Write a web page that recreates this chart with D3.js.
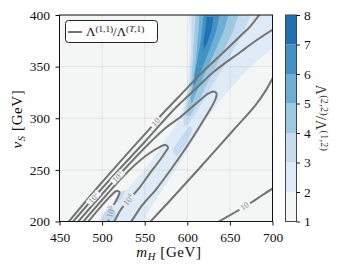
<!DOCTYPE html>
<html><head><meta charset="utf-8">
<script src="https://cdn.jsdelivr.net/npm/d3@7"></script>
<style>
body{margin:0;background:#fff;}
svg{display:block;font-family:"Liberation Serif","DejaVu Serif",serif;}
</style></head><body>
<svg id="c" width="340" height="273"></svg>
<script>
// ---------- data ----------
const xTicks=[450,500,550,600,650,700];
const yTicks=[200,250,300,350,400];
const cbTicks=[1,2,3,4,5,6,7,8];
const levelColors=["#f4f6f6","#deebf7","#c6dbef","#9ecae1","#6baed6","#4292c6","#2171b5"];

// filled regions of Λ(2,2)/Λ(1,2) ≥ level  (points: [m_H, v_S])
const region2=[[494.6,200],[507.5,213.1],[519.2,223.7],[533.3,234.4],[547.4,248],[562.7,264.4],[574.4,278.9],[586.1,293.5],[594.4,308],[599,322.5],[601.4,346.7],[602.6,375.8],[601.4,400],[700,400],[700,368.1],[683.6,356.4],[668.3,344.8],[653.1,331.2],[639,317.7],[627.2,305.1],[615.5,290.6],[603.8,274.1],[589.7,254.7],[574.4,235.4],[559.2,216],[548.6,200]];
const region3a=[[604.9,400],[674.2,400],[667.1,385.5],[657.7,371],[646,354.5],[633.1,337],[621.4,320.6],[610.8,306],[601.4,294.4],[595.5,291.5],[595.5,303.1],[599,317.7],[602.6,337],[604.9,366.1]];
const region3b=[[498.1,200],[514.6,200],[516.9,208.2],[511,215],[502.8,209.2]];
const region3c=[[514.6,220.8],[521.6,228.6],[527.5,230.5],[523.9,222.8],[518.1,217.9]];
const region3d=[[582.6,269.2],[594.4,283.8],[603.8,293.5],[606.1,288.6],[597.9,274.1],[587.3,262.5]];
const region4=[[609.6,400],[660.1,400],[654.2,385.5],[644.8,369],[634.3,351.6],[622.5,332.2],[612,314.8],[602.6,301.2],[599,303.1],[601.4,317.7],[604.9,337],[607.3,366.1]];
const region5=[[614.3,400],[648.4,400],[642.5,383.5],[633.1,366.1],[622.5,346.7],[613.1,329.3],[604.9,313.8],[603.8,319.6],[607.3,337],[610.8,361.3],[613.1,385.5]];
const region6=[[619,400],[637.8,400],[634.3,385.5],[627.2,369],[619,351.6],[610.8,335.1],[607.3,329.3],[608.4,341.9],[613.1,361.3],[616.7,380.6]];
const region7=[[622.5,398],[630.7,398],[628.4,385.5],[623.7,373.8],[619,366.1],[619,375.8],[621.4,387.5]];

// contour lines of Λ(1,1)/Λ(T,1)
const c10Upper=[[459,198],[498.1,236.3],[533.3,269.2],[556.8,290.6],[568.5,302.2],[592,322.5],[615.5,342.9],[639,361.3],[662.4,379.7],[674.2,389.3],[687,403]];
const c10Lower=[[632,197.5],[656.6,209.2],[674.2,217.9],[688.3,225.7],[703,233.5]];
const c100Upper=[[464,198],[498.1,230.5],[521.6,251.8],[551,278],[583.8,308],[609.6,328.3],[630.7,344.8],[662.4,364.2],[680,374.8],[702,386.8]];
const c100Lower=[[554.5,198],[580.3,220.8],[615.5,252.8],[654.2,288.6],[680.1,312.8],[691.8,326.5],[700,338.5],[702.3,342]];
const c1000=[[470,198],[498.1,224.7],[527.5,251.8],[556.8,277],[574.4,290.6],[592,301.2],[609.6,313.8],[624.9,324],[630.7,325.9],[634.3,324],[633.1,318.6],[628.4,310.9],[621.4,301.2],[612,288.6],[596.7,269.2],[580.3,249.9],[562.7,230.5],[547.4,216],[534.5,200.5],[532,198]];
const c10000=[[476,198],[504,224.7],[527.5,246],[551,263.4],[568.5,272.6],[574.4,274.1],[577.4,271.7],[574.4,267.3],[566.2,257.6],[554.5,245],[542.7,231.5],[531,220.8],[521.6,211.1],[514.6,200.5],[512.5,198]];
const c100000=[[481.7,198],[498.1,214],[509.9,224.7],[516.9,229.5],[520.4,228.6],[518.1,222.8],[512.2,214],[508.7,207.3],[507.5,200.5],[507,198]];

const contourLines=[c10Upper,c10Lower,c100Upper,c100Lower,c1000,c10000,c100000];
// inline labels: [m_H, v_S, exponent, index of contour line]
const contourLabels=[[562.7,296.4,1,0],[667.1,215,1,1],[489.9,222.8,2,2],[518.1,243.1,3,4],[531,220.8,4,5],[509.9,209.2,5,6]];

// ---------- drawing ----------
const L=59.5,R=272.5,T=15,B=221.5;
const xS=d3.scaleLinear().domain([450,700]).range([L,R]);
const yS=d3.scaleLinear().domain([200,400]).range([B,T]);
const cbS=d3.scaleLinear().domain([1,8]).range([B,T]);
const svg=d3.select("#c");
const defs=svg.append("defs");
defs.append("clipPath").attr("id","pc").append("rect").attr("x",L).attr("y",T).attr("width",R-L).attr("height",B-T);
const mask=defs.append("mask").attr("id","gap").attr("maskUnits","userSpaceOnUse").attr("x",0).attr("y",0).attr("width",340).attr("height",273);
mask.append("rect").attr("width",340).attr("height",273).attr("fill","#fff");

const plot=svg.append("g").attr("clip-path","url(#pc)");
plot.append("rect").attr("x",L).attr("y",T).attr("width",R-L).attr("height",B-T).attr("fill",levelColors[0]);
const poly=d3.line().x(d=>xS(d[0])).y(d=>yS(d[1])).curve(d3.curveLinearClosed);
[[region2,2],[region3a,3],[region3b,3],[region3c,3],[region3d,3],[region4,4],[region5,5],[region6,6],[region7,7]]
  .forEach(([pts,lv])=>plot.append("path").attr("d",poly(pts)).attr("fill",levelColors[lv-1]));

// grid
const grid=plot.append("g").attr("stroke","#b0b0b0").attr("stroke-opacity",0.3).attr("stroke-width",0.8);
xTicks.forEach(t=>grid.append("line").attr("x1",xS(t)).attr("x2",xS(t)).attr("y1",T).attr("y2",B));
yTicks.forEach(t=>grid.append("line").attr("x1",L).attr("x2",R).attr("y1",yS(t)).attr("y2",yS(t)));

// contour lines
const cl=plot.append("g").attr("mask","url(#gap)");
const lineGen=d3.line().x(d=>xS(d[0])).y(d=>yS(d[1])).curve(d3.curveCatmullRom.alpha(0.5));
contourLines.forEach(pts=>cl.append("path").attr("d",lineGen(pts)).attr("fill","none")
  .attr("stroke","#737373").attr("stroke-width",2).attr("stroke-linecap","butt"));

// labels
const lab=plot.append("g");
contourLabels.forEach(([m,v,e,li])=>{
  const px=xS(m),py=yS(v);
  const pts=contourLines[li].map(d=>[xS(d[0]),yS(d[1])]);
  let bi=0,bd=1e9;
  pts.forEach((p,i)=>{const dd=(p[0]-px)**2+(p[1]-py)**2;if(dd<bd){bd=dd;bi=i;}});
  const a=pts[Math.max(0,bi-1)],b=pts[Math.min(pts.length-1,bi+1)];
  let ang=Math.atan2(b[1]-a[1],b[0]-a[0])*180/Math.PI;
  if(ang>90)ang-=180; if(ang<-90)ang+=180;
  const g=lab.append("g").attr("transform",`translate(${px},${py}) rotate(${ang})`);
  const t=g.append("text").attr("text-anchor","middle").attr("y",3).attr("font-size",8.5).attr("fill","#8a8a8a").text("10");
  if(e>1) t.append("tspan").attr("dy",-3.3).attr("font-size",6).text(e);
  const w=t.node().getComputedTextLength();
  mask.append("rect").attr("x",-w/2-2).attr("y",-3.5).attr("width",w+4).attr("height",7).attr("fill","#000")
    .attr("transform",`translate(${px},${py}) rotate(${ang})`);
});

// frame
svg.append("rect").attr("x",L).attr("y",T).attr("width",R-L).attr("height",B-T).attr("fill","none").attr("stroke","#111").attr("stroke-width",1);

function styleAxis(g){
  g.select(".domain").remove();
  g.selectAll(".tick line").attr("stroke","#111").attr("stroke-width",1);
  g.selectAll(".tick text").attr("font-size",13.5).attr("fill","#111").attr("font-family","Liberation Serif");
}
svg.append("g").attr("transform",`translate(0,${B})`)
  .call(d3.axisBottom(xS).tickValues(xTicks).tickSize(4).tickPadding(6.5).tickFormat(d3.format("d"))).call(styleAxis);
svg.append("g").attr("transform",`translate(${L},0)`)
  .call(d3.axisLeft(yS).tickValues(yTicks).tickSize(4).tickPadding(5.5).tickFormat(d3.format("d"))).call(styleAxis);

// legend
const lg=svg.append("g");
lg.append("rect").attr("x",65.5).attr("y",20.5).attr("width",92).attr("height",22).attr("rx",3)
  .attr("fill","#fff").attr("fill-opacity",0.85).attr("stroke","#222").attr("stroke-width",1);
lg.append("line").attr("x1",68).attr("x2",82).attr("y1",32).attr("y2",32).attr("stroke","#737373").attr("stroke-width",2);
const lt=lg.append("text").attr("x",86).attr("y",36).attr("font-size",13).attr("fill","#111");
lt.append("tspan").text("Λ");
lt.append("tspan").attr("dy",-4.5).attr("font-size",9.2).text("(1,1)");
lt.append("tspan").attr("dy",4.5).text("/Λ");
const s2=lt.append("tspan").attr("dy",-4.5).attr("font-size",9.2);
s2.append("tspan").text("(");
s2.append("tspan").attr("font-style","italic").text("T");
s2.append("tspan").text(",1)");

// axis labels
const xl=svg.append("text").attr("x",169).attr("y",257).attr("text-anchor","middle").attr("font-size",15).attr("letter-spacing",0.6).attr("fill","#111");
xl.append("tspan").attr("font-style","italic").text("m");
xl.append("tspan").attr("font-style","italic").attr("dy",3).attr("font-size",10.5).text("H");
xl.append("tspan").attr("dy",-3).text(" [GeV]");
const yl=svg.append("text").attr("transform","translate(22,119) rotate(-90)").attr("text-anchor","middle").attr("font-size",15).attr("letter-spacing",0.6).attr("fill","#111");
yl.append("tspan").attr("font-style","italic").text("v");
yl.append("tspan").attr("font-style","italic").attr("dy",3).attr("font-size",10.5).text("S");
yl.append("tspan").attr("dy",-3).text(" [GeV]");

// colorbar
const cbx=285.5,cbw=11;
for(let i=0;i<cbTicks.length-1;i++){
  svg.append("rect").attr("x",cbx).attr("width",cbw).attr("y",cbS(cbTicks[i+1])).attr("height",cbS(cbTicks[i])-cbS(cbTicks[i+1])).attr("fill",levelColors[i]);
}
svg.append("rect").attr("x",cbx).attr("y",T).attr("width",cbw).attr("height",B-T).attr("fill","none").attr("stroke","#444").attr("stroke-width",1);
svg.append("g").attr("transform",`translate(${cbx+cbw},0)`)
  .call(d3.axisRight(cbS).tickValues(cbTicks).tickSize(3.5).tickPadding(4).tickFormat(d3.format("d"))).call(styleAxis);
const cl2=svg.append("text").attr("transform","translate(316,118) rotate(90)").attr("text-anchor","middle").attr("font-size",14).attr("letter-spacing",0.3).attr("fill","#333");
cl2.append("tspan").text("Λ");
cl2.append("tspan").attr("dy",-5).attr("font-size",10).text("(2,2)");
cl2.append("tspan").attr("dy",5).text("/Λ");
cl2.append("tspan").attr("dy",-5).attr("font-size",10).text("(1,2)");
</script>
</body></html>
